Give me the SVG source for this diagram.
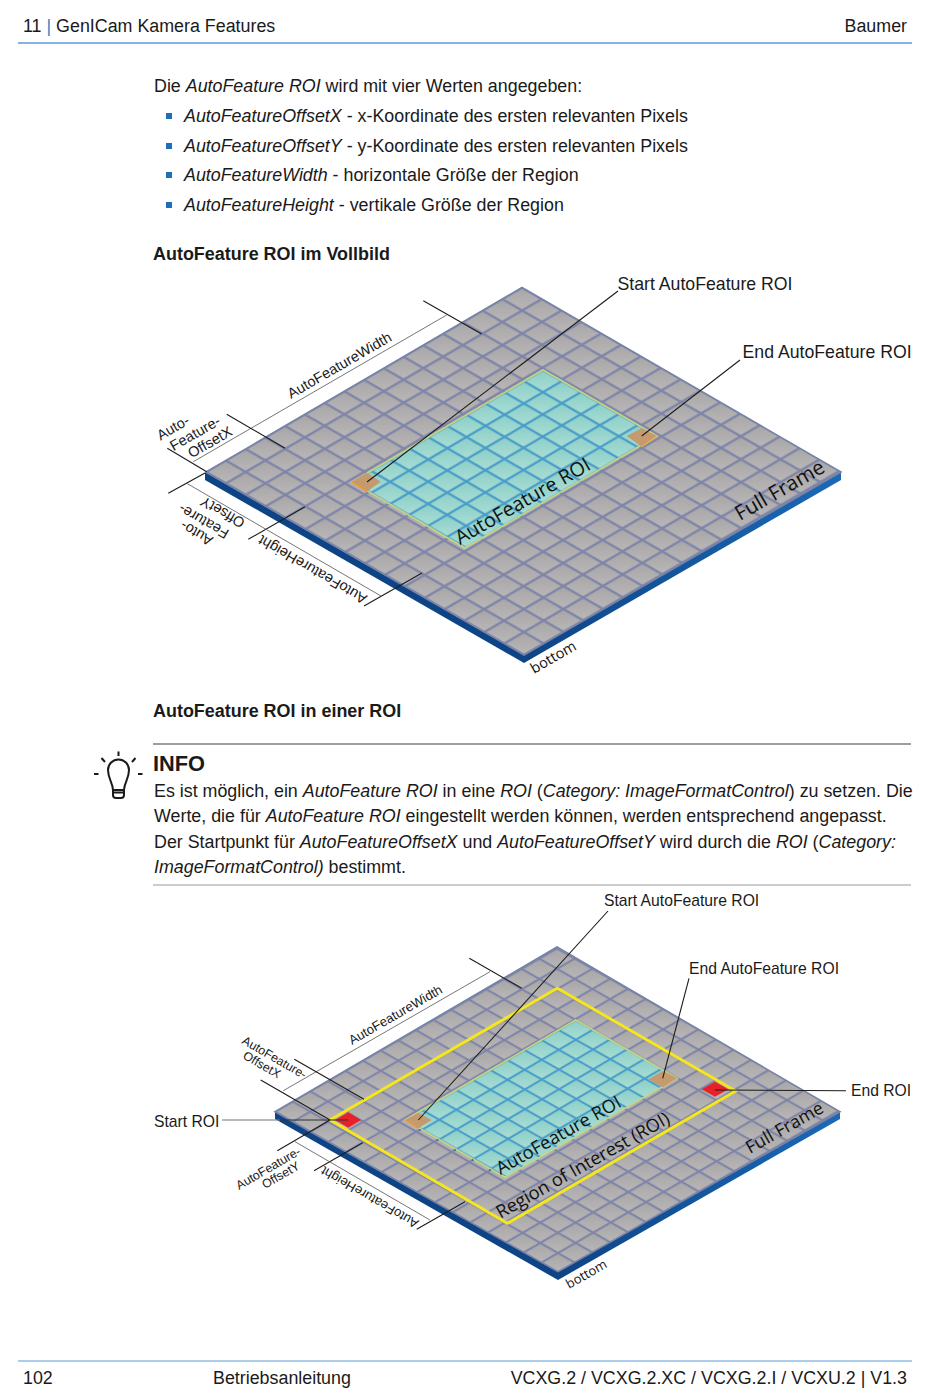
<svg xmlns="http://www.w3.org/2000/svg" width="950" height="1398" viewBox="0 0 950 1398">
<style>
text{font-family:"Liberation Sans",Arial,sans-serif;fill:#1a1a1a}
.b{font-size:17.85px}
.i{font-style:italic}
.h{font-size:17.95px;font-weight:bold}
.l{font-size:17.7px}
.l2{font-size:15.7px}
.d{font-size:14.6px}
.d2{font-size:13.1px}
.d3{font-size:12.4px}
.s{font-family:"Open Sans",sans-serif;fill:#111}
.ln{stroke:#1c1c1c;stroke-width:1.1;fill:none}
.dim{stroke:#666;stroke-width:.9;fill:none}
.side1{fill:#0e4485}
.side2{fill:url(#sg)}
.edge{fill:none;stroke:#7683a8;stroke-width:1.6}
.aroi{fill:none;stroke:#c6d57f;stroke-width:1.6}
.cell{fill:#c49a6e;stroke:none}
.red{fill:#e8202a}
.yel{fill:none;stroke:#f5e61e;stroke-width:3}
</style>
<defs>
<linearGradient id="sg" x1="0" x2="1" y1="0" y2="0"><stop offset="0" stop-color="#0e4485"/><stop offset="1" stop-color="#1b69b6"/></linearGradient>
<linearGradient id="cg" x1="1" y1="0" x2="0" y2="1"><stop offset="0" stop-color="#a8a6a6"/><stop offset="1" stop-color="#b8b6b6"/></linearGradient>
<linearGradient id="tg" x1="1" y1="0" x2="0" y2="1"><stop offset="0" stop-color="#8ccfc8"/><stop offset="1" stop-color="#a8ddd4"/></linearGradient>
<pattern id="p1" patternUnits="userSpaceOnUse" width="100" height="100" patternTransform="matrix(.1975,-.1153,.19875,.1144,206,472)">
<rect width="100" height="100" fill="#7f85a8"/><rect x="6" y="6" width="88" height="88" fill="url(#cg)"/></pattern>
<pattern id="p2" patternUnits="userSpaceOnUse" width="100" height="100" patternTransform="matrix(.17625,-.102,.17688,.101,275,1111.7)">
<rect width="100" height="100" fill="#7f85a8"/><rect x="6" y="6" width="88" height="88" fill="url(#cg)"/></pattern>
<pattern id="r1" patternUnits="userSpaceOnUse" width="100" height="100" patternTransform="matrix(.191,-.112,.19,.11,352,482)">
<rect width="100" height="100" fill="#4a9dc9"/><rect x="6" y="6" width="88" height="88" fill="url(#tg)"/></pattern>
<pattern id="r2" patternUnits="userSpaceOnUse" width="100" height="100" patternTransform="matrix(.1707,-.1,.1723,.0972,405,1120)">
<rect width="100" height="100" fill="#4a9dc9"/><rect x="6" y="6" width="88" height="88" fill="url(#tg)"/></pattern>
</defs>
<rect width="950" height="1398" fill="#fff"/>

<g id="header">
<text x="23" y="31.500" class="b">11 <tspan fill="#3a7fc4">|</tspan> GenICam Kamera Features</text>
<text x="907" y="31.500" class="b" text-anchor="end">Baumer</text>
<line x1="18" y1="43" x2="912" y2="43" stroke="#5b9ad8" stroke-width="1.500"/>
</g>

<g id="intro">
<text x="154" y="92" class="b">Die <tspan class="i">AutoFeature ROI</tspan> wird mit vier Werten angegeben:</text>
<rect x="166" y="113" width="6" height="6" fill="#1f6fb8"/>
<text x="184" y="122" class="b"><tspan class="i">AutoFeatureOffsetX</tspan> - x-Koordinate des ersten relevanten Pixels</text>
<rect x="166" y="143" width="6" height="6" fill="#1f6fb8"/>
<text x="184" y="151.500" class="b"><tspan class="i">AutoFeatureOffsetY</tspan> - y-Koordinate des ersten relevanten Pixels</text>
<rect x="166" y="172" width="6" height="6" fill="#1f6fb8"/>
<text x="184" y="181" class="b"><tspan class="i">AutoFeatureWidth</tspan> - horizontale Größe der Region</text>
<rect x="166" y="202" width="6" height="6" fill="#1f6fb8"/>
<text x="184" y="211" class="b"><tspan class="i">AutoFeatureHeight</tspan> - vertikale Größe der Region</text>
<text x="153" y="260" class="h">AutoFeature ROI im Vollbild</text>
</g>

<g id="diagram1">
<g id="frame1">
<polygon class="side1" points="205,472 524,655 524,663 205,480"/>
<polygon class="side2" points="524,655 841,472 841,480 524,663"/>
<polygon points="206,472 522,287.500 841,472 524,655" fill="url(#p1)"/>
<polygon class="edge" points="206,472 522,287.500 841,472 524,655"/>
</g>
<g id="afroi1">
<polygon points="352,482 543,370 657,436 465,548" fill="url(#r1)"/>
<polygon class="aroi" points="352,482 543,370 657,436 465,548"/>
<polygon class="cell" points="351.700,481.700 366.700,472.700 380.700,481.700 366.700,491.700"/>
<polyline points="351.700,481.700 366.700,491.700" fill="none" stroke="#f09a2c" stroke-width="1.600"/>
<polygon class="cell" points="626.700,436 641.700,428.300 657.300,436 641.700,446.700"/>
<polyline points="641.700,446.700 657.300,436" fill="none" stroke="#f0b040" stroke-width="1.200"/>
</g>
<g id="labels1">
<text class="s" font-size="19.800" transform="translate(460,545) rotate(-30)">AutoFeature ROI</text>
<text class="s" font-size="20.500" transform="translate(740,521) rotate(-30)">Full Frame</text>
<text class="s" font-size="14.500" transform="translate(534,674) rotate(-30)">bottom</text>
<text class="d" transform="translate(291,399) rotate(-30)">AutoFeatureWidth</text>
<text class="d" text-anchor="middle" transform="translate(175.500,432) rotate(-30)">Auto-</text>
<text class="d" text-anchor="middle" transform="translate(197.500,437.500) rotate(-30)">Feature-</text>
<text class="d" text-anchor="middle" transform="translate(212.500,446.500) rotate(-30)">OffsetX</text>
<text class="d" text-anchor="middle" transform="translate(199,529) rotate(210)">Auto-</text>
<text class="d" text-anchor="middle" transform="translate(206,517) rotate(210)">Feature-</text>
<text class="d" text-anchor="middle" transform="translate(225,508) rotate(210)">OffsetY</text>
<text class="d" transform="translate(368,596) rotate(210)">AutoFeatureHeight</text>
</g>
<g id="connectors1">
<line class="ln" x1="618" y1="291" x2="367" y2="482"/>
<line class="ln" x1="740" y1="360" x2="641.700" y2="436"/>
<line class="dim" x1="193.300" y1="461.700" x2="446.700" y2="315"/>
<line class="ln" x1="423.300" y1="300.700" x2="481.700" y2="334"/>
<line class="ln" x1="226.700" y1="414.300" x2="285" y2="448.300"/>
<line class="ln" x1="167.300" y1="448.300" x2="206.700" y2="471.700"/>
<line class="ln" x1="205" y1="473" x2="168.300" y2="493.300"/>
<line class="ln" x1="305" y1="506.700" x2="248.300" y2="539.300"/>
<line class="ln" x1="422" y1="573" x2="364" y2="606"/>
<line class="dim" x1="186.700" y1="483.300" x2="381" y2="596"/>
</g>
<text x="617.500" y="289.500" class="l">Start AutoFeature ROI</text>
<text x="742.500" y="357.500" class="l">End AutoFeature ROI</text>
</g>

<text x="153" y="717" class="h">AutoFeature ROI in einer ROI</text>

<g id="info">
<line x1="153" y1="744" x2="911" y2="744" stroke="#3f3f3f" stroke-width="1.200"/>
<g id="bulb" fill="none" stroke="#1a1a1a" stroke-width="2">
<path d="M113,790 C113,783 108,779 108,770 A10.500,10.500 0 0 1 129,770 C129,779 124,783 124,790 Z"/>
<path d="M113,790 L113,795 Q113,798 116,798 L121,798 Q124,798 124,795 L124,790 M113,792.500 H124"/>
<path d="M118.500,751.500 V756 M101.500,758 L105,762 M135.500,758 L132,762 M94,774 H98.500 M138,774 H142.500"/>
</g>
<text x="153" y="771" font-size="21.800" font-weight="bold">INFO</text>
<text x="154" y="797" class="b">Es ist möglich, ein <tspan class="i">AutoFeature ROI</tspan> in eine <tspan class="i">ROI</tspan> (<tspan class="i">Category: ImageFormatControl</tspan>) zu setzen. Die</text>
<text x="154" y="822" class="b">Werte, die für <tspan class="i">AutoFeature ROI</tspan> eingestellt werden können, werden entsprechend angepasst.</text>
<text x="154" y="848" class="b">Der Startpunkt für <tspan class="i">AutoFeatureOffsetX</tspan> und <tspan class="i">AutoFeatureOffsetY</tspan> wird durch die <tspan class="i">ROI</tspan> (<tspan class="i">Category:</tspan></text>
<text x="154" y="873" class="b"><tspan class="i">ImageFormatControl)</tspan> bestimmt.</text>
<line x1="153" y1="885" x2="911" y2="885" stroke="#9a9a9a" stroke-width="1"/>
</g>

<g id="diagram2">
<g id="frame2">
<polygon class="side1" points="275,1111.700 558,1271.700 558,1280 275,1119"/>
<polygon class="side2" points="558,1271.700 840,1111.700 840,1119 558,1280"/>
<polygon points="275,1111.700 557,947 840,1111.700 558,1271.700" fill="url(#p2)"/>
<polygon class="edge" points="275,1111.700 557,947 840,1111.700 558,1271.700"/>
</g>
<g id="afroi2">
<polygon points="405,1120 575.700,1020 677.300,1078.300 505,1177.300" fill="url(#r2)"/>
<polygon class="aroi" points="405,1120 575.700,1020 677.300,1078.300 505,1177.300"/>
<polygon class="cell" points="405,1120 418.300,1112.700 431.700,1120 418.300,1128.300"/>
<polyline points="405,1120 418.300,1128.300" fill="none" stroke="#f09a2c" stroke-width="1.400"/>
<polygon class="cell" points="648.300,1079.300 663.300,1070.700 677.300,1078.300 662.700,1087.300"/>
<g fill="#2f6f9f"><circle cx="420" cy="1130" r=".9"/><circle cx="437.700" cy="1140" r=".9"/><circle cx="455" cy="1150" r=".9"/><circle cx="472.700" cy="1160" r=".9"/><circle cx="490" cy="1170" r=".9"/></g>
</g>
<g id="roi2">
<polygon class="yel" points="330,1120 557.300,988.300 735.700,1091 507.300,1223.300"/>
<polygon class="red" points="335,1120 348.300,1112.300 361,1120 348.300,1127.700"/>
<polygon class="red" points="701.700,1089.300 715,1081.700 728.300,1089.300 715,1096.700"/>
</g>
<g id="labels2">
<text class="s" font-size="18.200" transform="translate(500.500,1175) rotate(-29.500)">AutoFeature ROI</text>
<text class="s" font-size="18.200" transform="translate(500.500,1219) rotate(-29.500)">Region of Interest (ROI)</text>
<text class="s" font-size="17.700" transform="translate(750,1154) rotate(-29.500)">Full Frame</text>
<text class="s" font-size="13" transform="translate(569,1289) rotate(-29.500)">bottom</text>
<text class="d2" transform="translate(352,1045) rotate(-30)">AutoFeatureWidth</text>
<text class="d3" transform="translate(241,1043) rotate(30)">AutoFeature-</text>
<text class="d3" transform="translate(242,1058) rotate(30)">OffsetX</text>
<text class="d3" transform="translate(239,1190) rotate(-30)">AutoFeature-</text>
<text class="d3" transform="translate(265,1189) rotate(-30)">OffsetY</text>
<text class="d2" transform="translate(419.500,1221) rotate(210)">AutoFeatureHeight</text>
</g>
<g id="connectors2">
<line class="ln" x1="608" y1="911" x2="418.300" y2="1120"/>
<line class="ln" x1="689" y1="978.300" x2="662.700" y2="1078.300"/>
<line class="ln" x1="222" y1="1120" x2="280" y2="1120" style="stroke:#777"/>
<line class="ln" x1="280" y1="1120" x2="348" y2="1120" style="stroke:#333"/>
<line class="ln" x1="846" y1="1090.700" x2="715" y2="1090"/>
<line class="dim" x1="283.300" y1="1090.700" x2="490" y2="971.700"/>
<line class="ln" x1="469.300" y1="958.300" x2="521.700" y2="988.300"/>
<line class="ln" x1="294.300" y1="1059.300" x2="364" y2="1099.300"/>
<line class="ln" x1="260.700" y1="1080" x2="330" y2="1120"/>
<line class="ln" x1="330" y1="1120" x2="277.300" y2="1150.700"/>
<line class="ln" x1="362.700" y1="1142.700" x2="314" y2="1170.700"/>
<line class="ln" x1="465" y1="1201.700" x2="416.700" y2="1229.300"/>
<line class="dim" x1="295" y1="1141.700" x2="430" y2="1220"/>
</g>
<text x="604" y="906" class="l2">Start AutoFeature ROI</text>
<text x="689" y="974" class="l2">End AutoFeature ROI</text>
<text x="154" y="1127" class="l2">Start ROI</text>
<text x="851" y="1096" class="l2">End ROI</text>
</g>

<g id="footer">
<line x1="18" y1="1361" x2="912" y2="1361" stroke="#5b9ad8" stroke-width="1.200"/>
<text x="23" y="1384" class="b">102</text>
<text x="213" y="1384" class="b">Betriebsanleitung</text>
<text x="907" y="1384" class="b" text-anchor="end">VCXG.2 / VCXG.2.XC / VCXG.2.I / VCXU.2 | V1.3</text>
</g>
</svg>
